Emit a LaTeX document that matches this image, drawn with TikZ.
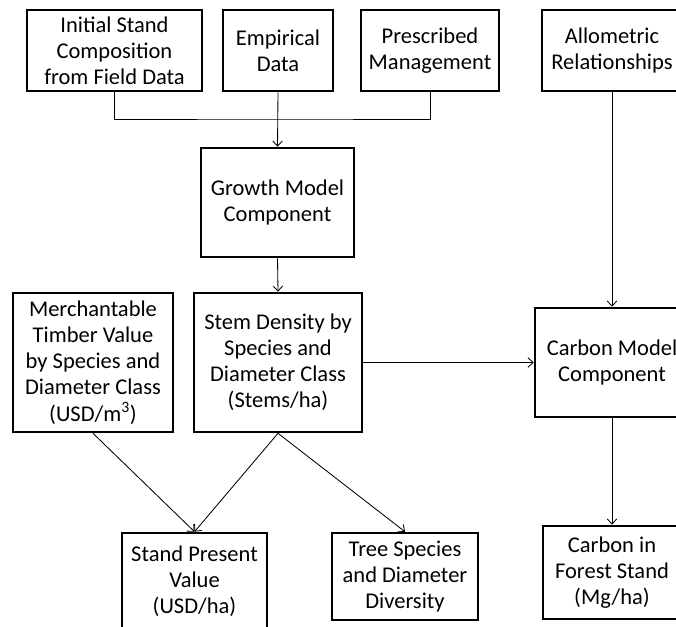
\documentclass[tikz,border=0pt]{standalone}
\usepackage{fontspec}
\setmainfont{Carlito}
\usetikzlibrary{arrows.meta}

\tikzset{
  box/.style={draw, line width=1.8pt, align=center, inner sep=0pt, font=\fontsize{16}{18.6}\selectfont},
  link/.style={line width=0.6pt, -{Straight Barb[length=1.3mm,width=2.4mm]}}
}

\begin{document}
\begin{tikzpicture}[x=0.025cm, y=-0.025cm]
        \useasboundingbox (0,0) rectangle (676,626);
        \node[box, minimum width=4.375cm, minimum height=2.025cm] (init) at (114.5,50.5) {Initial Stand\\Composition\\from Field Data};
        \node[box, minimum width=2.75cm, minimum height=2.025cm] (emp) at (278,50.5) {Empirical\\Data};
        \node[box, minimum width=3.45cm, minimum height=2.025cm] (presc) at (430,50.5) {Prescribed\\Management};
        \node[box, minimum width=3.5cm, minimum height=2.025cm] (allom) at (612,50.5) {Allometric\\Relationships};
        \node[box, minimum width=3.825cm, minimum height=2.725cm] (growth) at (277.5,202.5) {Growth Model\\Component};
        \node[box, minimum width=4cm, minimum height=3.475cm] (merch) at (93,362.5) {Merchantable\\Timber Value\\by Species and\\Diameter Class\\(USD/m\textsuperscript{3})};
        \node[box, minimum width=4.2cm, minimum height=3.475cm] (stem) at (278,362.5) {Stem Density by\\Species and\\Diameter Class\\(Stems/ha)};
        \node[box, minimum width=3.85cm, minimum height=2.725cm] (cmodel) at (612,362.5) {Carbon Model\\Component};
        \node[box, minimum width=3.625cm, minimum height=2.4cm] (spv) at (194.5,581) {Stand Present\\Value\\(USD/ha)};
        \node[box, minimum width=3.65cm, minimum height=2.175cm] (tree) at (405,576.5) {Tree Species\\and Diameter\\Diversity};
        \node[box, minimum width=3.45cm, minimum height=2.325cm] (cforest) at (612,572.5) {Carbon in\\Forest Stand\\(Mg/ha)};
        \coordinate (junc) at (278,119);
        \draw[line width=0.6pt] (init.south) |- (junc) -| (presc.south);
        \draw[link] (emp.south) -- (growth.north);
        \draw[link] (growth.south) -- (stem.north);
        \draw[link] (allom.south) -- (cmodel.north);
        \draw[link] (stem.east) -- (cmodel.west);
        \draw[link] (cmodel.south) -- (cforest.north);
        \draw[link] (merch.south) -- (spv.north);
        \draw[link] (stem.south) -- (spv.north);
        \draw[link] (stem.south) -- (tree.north);
\end{tikzpicture}
\end{document}
